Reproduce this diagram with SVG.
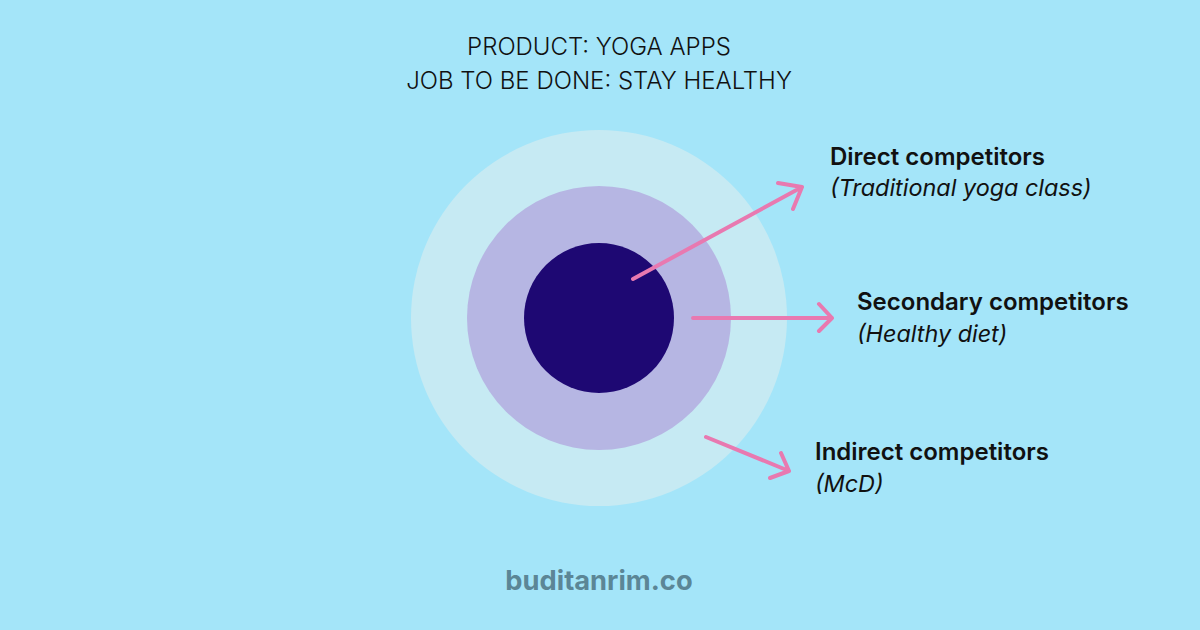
<svg xmlns="http://www.w3.org/2000/svg" width="1200" height="630" viewBox="0 0 1200 630">
<defs>
<style>
.title{font-family:Inter,"Noto Sans",sans-serif;font-size:24px;fill:#111;text-anchor:middle;font-weight:300}
.lbl{font-family:Inter,"Noto Sans",sans-serif;font-size:24px;font-weight:600;fill:#111}
.sub{font-family:Inter,"Noto Sans",sans-serif;font-size:23.4px;font-style:italic;fill:#111}
.conn{stroke:#E879B0;stroke-width:4;fill:none;stroke-linecap:round;stroke-linejoin:round}
.foot{font-family:Inter,"Noto Sans",sans-serif;font-size:27.3px;font-weight:700;fill:#5B8696;text-anchor:middle}
</style>
</defs>
<rect width="1200" height="630" fill="#A4E5F9"/>
<g id="title">
<text class="title" x="599" y="55">PRODUCT: YOGA APPS</text>
<text class="title" x="599" y="89">JOB TO BE DONE: STAY HEALTHY</text>
</g>
<g id="rings">
<circle id="outer" cx="599" cy="318" r="188" fill="#C6EAF3"/>
<circle id="middle" cx="599" cy="318" r="132" fill="#B6B6E3"/>
<circle id="inner" cx="599" cy="318" r="75" fill="#1E0873"/>
</g>
<g id="connectors">
<path class="conn" d="M633 279 L802 187 M778 183 L802 187 L793 209"/>
<path class="conn" d="M693 318 L832 318 M819 304 L832 318 L819 331"/>
<path class="conn" d="M706 437 L789 471 M781 453 L789 471 L770 478"/>
</g>
<g id="direct">
<text class="lbl" x="830" y="165">Direct competitors</text>
<text class="sub" x="830" y="196">(Traditional yoga class)</text>
</g>
<g id="secondary">
<text class="lbl" x="857" y="310">Secondary competitors</text>
<text class="sub" x="857" y="342">(Healthy diet)</text>
</g>
<g id="indirect">
<text class="lbl" x="815" y="460">Indirect competitors</text>
<text class="sub" x="815" y="492">(McD)</text>
</g>
<text class="foot" x="599" y="590">buditanrim.co</text>
</svg>
